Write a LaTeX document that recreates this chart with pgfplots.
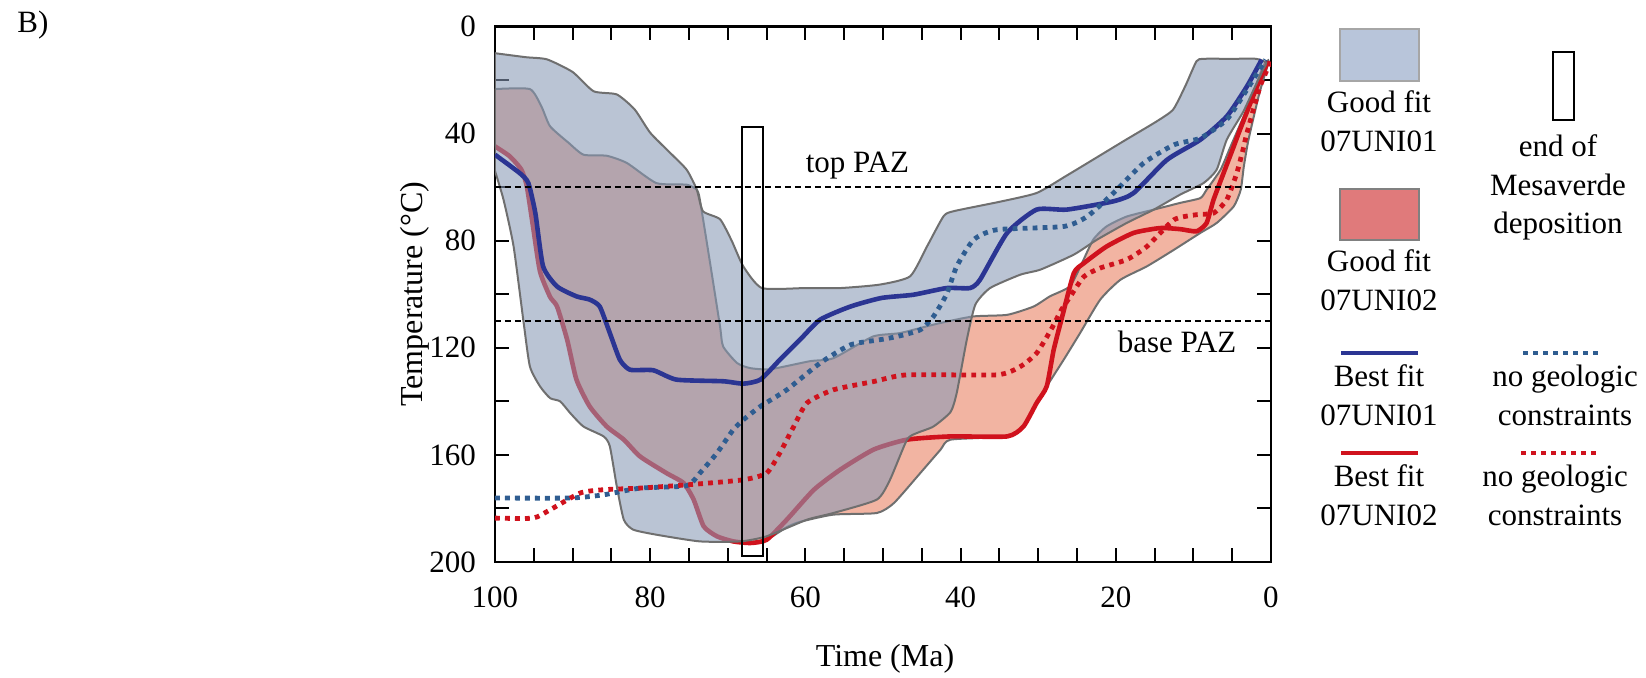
\documentclass[border=0pt]{standalone}
\usepackage{fontspec}
\setmainfont{Liberation Serif}
\usepackage{pgfplots}
\pgfplotsset{compat=1.18}
\definecolor{benv}{HTML}{8899B5}
\definecolor{renv}{HTML}{F2B4A2}
\definecolor{bfit}{HTML}{2B3593}
\definecolor{bdot}{HTML}{2F5D91}
\definecolor{rfit}{HTML}{D0121D}
\definecolor{edge}{HTML}{6F6F6F}
\definecolor{legb}{HTML}{B8C5DA}
\definecolor{legr}{HTML}{E07A7B}
\tikzset{dots/.style={line width=2.4pt, dash pattern=on 2.4pt off 2.6pt}}
\begin{document}
\begin{tikzpicture}
\path[use as bounding box] (0,0) rectangle (823pt,-338.5pt);
\node[font=\fontsize{15.5}{18}\selectfont] at (16.5pt,-12.5pt) {B)};
\begin{axis}[
    at={(247.5pt,-281pt)}, anchor=south west,
    scale only axis, width=388pt, height=267.8pt,
    xmin=0, xmax=100, ymin=0, ymax=200,
    x dir=reverse, y dir=reverse,
    xtick={0,20,...,100}, minor xtick={0,5,...,100},
    ytick={0,40,...,200}, minor ytick={20,60,...,180},
    tick align=inside, major tick length=7pt, minor tick length=7pt,
    tick style={line width=1pt, black},
    axis line style={line width=1.2pt},
    ticklabel style={font=\fontsize{15.5}{18}\selectfont},
    xticklabel style={yshift=-9pt}, yticklabel style={xshift=-6pt},
    /pgf/number format/assume math mode=true,
    xlabel={Time (Ma)}, ylabel={Temperature (°C)},
    label style={font=\fontsize{16}{19}\selectfont},
    xlabel style={at={(axis description cs:0.5026,-0.181)}, anchor=center},
    ylabel style={at={(axis description cs:-0.103,0.5)}, anchor=center},
    clip=true,
]
% good fit envelope 07UNI02
\addplot[fill=renv, draw=edge, line width=1pt, smooth, tension=0.35] coordinates {
(100,23.4) (95.5,23.4) (94,30) (92.9,37.3) (90.5,43.5) (88.6,47.9) (85.6,48.3) (83,51) (79.2,58.5) (75.3,59.1) (74,61) (73.6,64.7) (72.3,88) (71,112) (70.6,119.5) (68.8,125.7) (67.1,127.6) (64.5,128) (59.4,125) (56.4,123.9) (51.3,115.8) (47.8,114.5) (43,111) (38.4,108.3) (34,107.7) (30.6,104.6) (28.5,100.8) (25.9,97) (24.3,88) (22.9,79.6) (21.2,74.7) (18.6,71) (15.1,68.4) (11.7,65.9) (9.1,64.1) (8.3,61) (6.5,53.5) (5.2,44.8) (3,30) (1,14.8) (0.3,13)
(1.5,25) (2.9,42.3) (3.5,52.3) (3.9,61) (4.8,67.2) (7,73.4) (9.1,77.1) (12.5,83.4) (16,89.6) (19.4,94.6) (22,102) (24.6,114.5) (26.7,124.4) (28.9,134.4) (30.2,140.6) (31.9,149.4) (34,153.1) (41.3,154.3) (42.6,158.1) (45.2,166.8) (48.6,178) (50.8,181.7) (56.4,182.3) (60.7,185) (62.4,187) (65,191.7) (67.1,192.9) (69.3,192.3) (71.4,190.4) (73.1,186.7) (74.4,176.7) (75.7,170.5) (77.9,166.8) (81.3,160.6) (83.4,154.3) (85.6,149.4) (87.8,141.9) (89.5,131.9) (90.7,117) (92,104.6) (92.9,100.8) (94.2,90.8) (95.1,74.7) (95.9,59.7) (96.6,53.5) (98.1,48.5) (100,44.8)
} -- cycle;
% best fit 07UNI02
\addplot[rfit, line width=2.3pt, smooth, tension=0.35] coordinates {
(100,44.8) (98.1,48.5) (96.6,53.5) (95.9,59.7) (95.1,74.7) (94.2,91.5) (92.9,101) (92,104.6) (90.7,117) (89.5,131.9) (87.8,141.9) (85.6,149.4) (83.4,154.3) (81.3,160.6) (77.9,166.8) (75.7,170.5) (74.4,176.7) (73.1,186.7) (71.4,190.4) (69.3,192.3) (67.1,192.9) (65,191.7) (62.4,184.2) (58.9,173) (55.5,165.5) (51.2,158) (46.9,154.3) (41.3,153.1) (34,153.1) (31.9,149.4) (30.2,140.6) (28.9,134.4) (28,120.7) (26.9,108.3) (25.4,92.1) (24.1,88.4) (21.2,82.2) (17.7,77.1) (14.3,75.3) (11.7,75.7) (9.6,76.5) (8.3,73.4) (7.4,64.7) (6.1,54.7) (4.8,44.8) (4,38.6) (1.8,22.4) (0.35,13)
};
% good fit envelope 07UNI01
\addplot[fill=benv, fill opacity=0.58, draw=edge, line width=1pt, smooth, tension=0.35] coordinates {
(100,10) (96,11.5) (93.3,12.3) (90,17) (87.3,24.2) (84.3,25.4) (82,31) (80,39.7) (77.5,47) (75.3,53.5) (74,60.9) (73.2,69) (71,72) (69.5,80) (68,89.6) (65.6,97.7) (60,97.7) (55.5,97.7) (50.4,96.4) (46.5,93.3) (44.3,82) (42.2,70.9) (40.9,69) (35,65.5) (30.2,62.2) (26.5,56) (22.9,49.7) (18.8,42.5) (14.7,35.4) (12.6,31) (11,22) (9.6,13) (8.7,12.1) (5,12.1) (1.9,12.1) (0.6,13.6)
(1,16) (2.3,24) (3.6,32) (5.7,42.3) (7,53.5) (8.7,58.5) (11.7,62.8) (15.1,68.4) (18.6,73.4) (22.4,79.6) (25.4,85.2) (29.7,90.8) (32.3,92.7) (36.2,97.7) (38.1,103.9) (39.2,117) (40.5,136.9) (41.3,144) (43.5,149.4) (45.6,151.8) (46.9,154.3) (49.1,169.3) (50.8,176.7) (56.4,181.7) (59.8,184.2) (65,190.4) (68.4,192.3) (73.6,192.3) (79.2,189.8) (82.2,187.9) (83.4,184.2) (84.3,171.8) (85.2,156.8) (86,153.1) (88.6,149.4) (90.3,144.4) (91.6,140) (92.9,138.8) (94.2,134.4) (95.5,127) (96.3,110.8) (97.6,82.2) (98.9,64.7) (100,54)
} -- cycle;
% best fit 07UNI01
\addplot[bfit, line width=2.3pt, smooth, tension=0.35] coordinates {
(100,47.9) (96.8,54.8) (95.7,58.5) (94.8,69.7) (93.8,89.6) (92,97.1) (89.5,100.8) (87.8,102) (86.5,104.6) (85.2,114.5) (83.9,124.5) (82.6,128.2) (79.6,128.4) (76.6,131.9) (70.6,132.5) (68,133.4) (65.8,131.9) (63.3,124.5) (60.7,117) (58.1,109.5) (54.2,104.6) (50.2,101.4) (46.1,100.2) (41.8,97.7) (38.8,97.7) (37.5,94.6) (34,77.1) (30.2,68.4) (26.3,68.4) (20.3,65.3) (17.7,62.2) (13.4,49.8) (9.1,42.3) (5.7,33.6) (3.1,22.4) (1.2,12.4)
};
% no geologic constraints 07UNI01
\addplot[bdot, dots, smooth, tension=0.35] coordinates {
(100,176.1) (90.3,176.1) (86,174.9) (81.3,172.4) (75.3,171.5) (73.6,166.8) (71.4,159.3) (69.3,150.6) (68,146.9) (65.8,141.9) (62.4,135.7) (58.1,125.7) (54.2,118.9) (50.4,117) (48.2,115.8) (45.2,113.3) (43.5,108.3) (41.8,100) (40.5,89.6) (38.3,79.6) (35.3,75.9) (26.7,74.7) (23.7,71) (20.3,62.2) (16.4,51) (12.5,44.2) (9.1,41.7) (5.7,34.8) (3.1,23.6) (0.7,12.4)
};
% no geologic constraints 07UNI02
\addplot[rfit, dots, smooth, tension=0.35] coordinates {
(100,183.6) (95.1,183.6) (92.9,180.5) (89,174.2) (86,173) (81.3,172.4) (74.9,171.1) (68,169.3) (65,166.8) (63.3,159.3) (61.5,149.4) (59.8,140.6) (56.4,135.7) (51.2,132.6) (46.9,130.1) (35.3,130.1) (32.3,127) (30.2,122) (28.3,113) (27,105.8) (25.9,101) (24.1,93.4) (22,90.2) (18.6,87.1) (16,82.2) (12.5,72.2) (9.6,70.3) (7.4,69.7) (5.7,64.7) (4.4,54.7) (3.5,44.8) (3.1,39.8) (1.4,22.4) (0,13)
};
% partial annealing zone
\addplot[black, line width=1pt, dash pattern=on 3pt off 2pt] coordinates {(100,60) (0,60)};
\addplot[black, line width=1pt, dash pattern=on 3pt off 2pt] coordinates {(100,110) (0,110)};
% end of Mesaverde deposition
\addplot[black, line width=1pt] coordinates {(68.2,37.4) (65.5,37.4) (65.5,197.8) (68.2,197.8)} -- cycle;
\node[font=\fontsize{15.5}{18}\selectfont] at (axis cs:53.3,52) {top PAZ};
\node[font=\fontsize{15.5}{18}\selectfont] at (axis cs:12.1,117.8) {base PAZ};
\end{axis}
\begin{scope}[x=0.5pt, y=-0.5pt, every node/.style={font=\fontsize{15.5}{18}\selectfont, anchor=base, inner sep=0pt}]
\filldraw[fill=legb, draw=black!35, line width=1.2pt] (1340,29) rectangle (1419,81);
\node at (1379,112.7) {Good fit};
\node at (1379,151.7) {07UNI01};
\filldraw[fill=legr, draw=black!50, line width=1.2pt] (1340,189) rectangle (1419,240);
\node at (1379,271.7) {Good fit};
\node at (1379,310) {07UNI02};
\draw[bfit, line width=2.3pt] (1341,353) -- (1418,353);
\node at (1379,386.7) {Best fit};
\node at (1379,425) {07UNI01};
\draw[rfit, line width=2.3pt] (1341,453) -- (1418,453);
\node at (1379,486.7) {Best fit};
\node at (1379,525) {07UNI02};
\draw[black, line width=1pt] (1553,52) rectangle (1574,120);
\node at (1558,156.7) {end of};
\node at (1558,195) {Mesaverde};
\node at (1558,233) {deposition};
\draw[bdot, dots] (1523,353) -- (1600,353);
\node at (1565,386.7) {no geologic};
\node at (1565,425) {constraints};
\draw[rfit, dots] (1521,453) -- (1598,453);
\node at (1555,486.7) {no geologic};
\node at (1555,525) {constraints};
\end{scope}
\end{tikzpicture}
\end{document}
